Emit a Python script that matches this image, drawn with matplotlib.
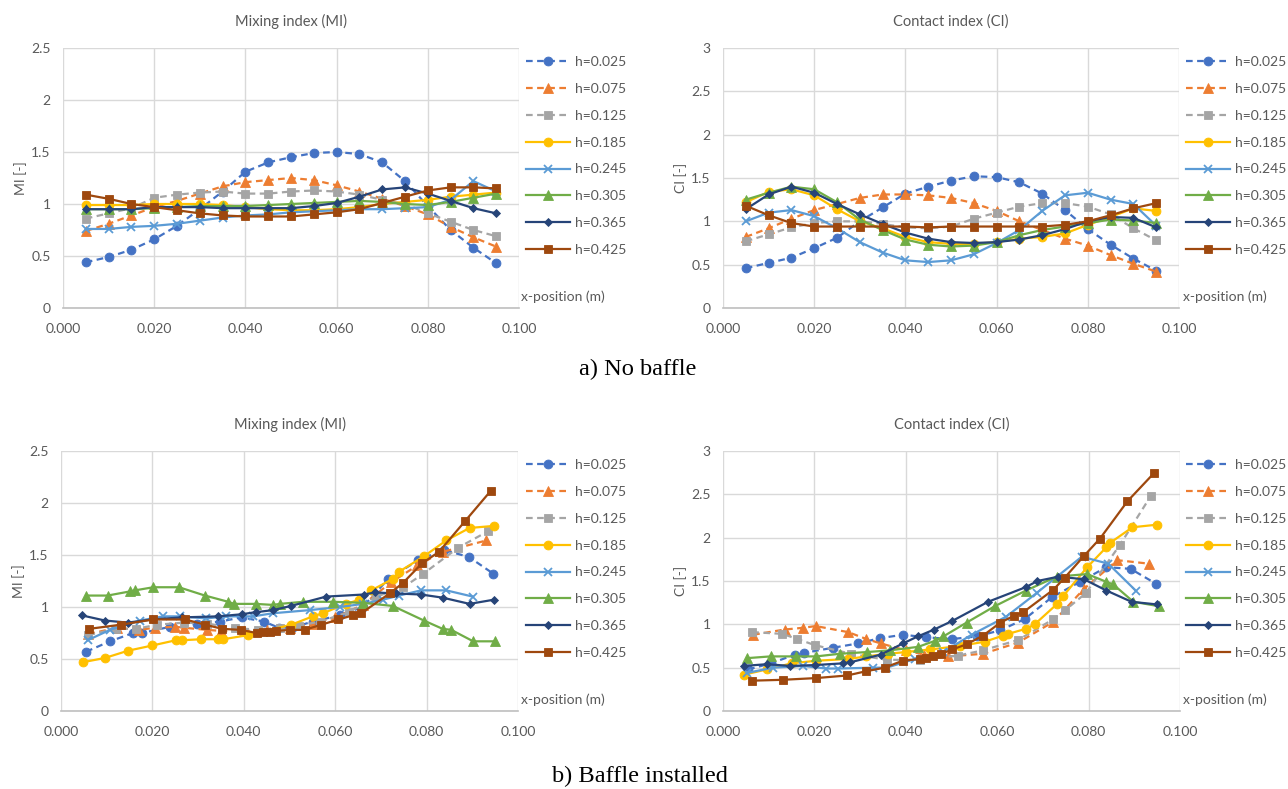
import numpy as np
import matplotlib
matplotlib.use("Agg")
import matplotlib.pyplot as plt

plt.rcParams['font.family'] = ['Lato', 'DejaVu Sans']

labels = ["h=0.025", "h=0.075", "h=0.125", "h=0.185",
          "h=0.245", "h=0.305", "h=0.365", "h=0.425"]
colors = ["#4472C4", "#ED7D31", "#A5A5A5", "#FFC000",
          "#5B9BD5", "#70AD47", "#264478", "#9E480E"]
markers = ["o", "^", "s", "o", "x", "^", "D", "s"]
dashed = [True, True, True, False, False, False, False, False]

# ---- a) no baffle: regular x positions ----
x_nb = [0.005, 0.010, 0.015, 0.020, 0.025, 0.030, 0.035, 0.040, 0.045, 0.050,
        0.055, 0.060, 0.065, 0.070, 0.075, 0.080, 0.085, 0.090, 0.095]

mi_nb = [
    [0.44, 0.49, 0.56, 0.66, 0.79, 0.95, 1.12, 1.31, 1.40, 1.45, 1.49, 1.50, 1.48, 1.40, 1.22, 0.98, 0.75, 0.58, 0.43],
    [0.74, 0.81, 0.89, 0.97, 1.03, 1.10, 1.17, 1.21, 1.23, 1.25, 1.23, 1.18, 1.12, 1.05, 0.98, 0.90, 0.78, 0.68, 0.59],
    [0.86, 0.91, 0.96, 1.06, 1.09, 1.11, 1.12, 1.10, 1.10, 1.12, 1.13, 1.12, 1.09, 1.04, 1.00, 0.91, 0.83, 0.75, 0.69],
    [0.99, 0.99, 0.99, 1.00, 1.00, 1.00, 0.99, 0.97, 0.95, 0.94, 0.94, 0.95, 0.97, 1.00, 1.02, 1.04, 1.07, 1.09, 1.11],
    [0.76, 0.76, 0.78, 0.79, 0.81, 0.84, 0.87, 0.89, 0.90, 0.92, 0.93, 0.94, 0.95, 0.95, 0.96, 0.97, 1.04, 1.22, 1.12],
    [0.95, 0.95, 0.95, 0.96, 0.97, 0.98, 0.98, 0.98, 0.99, 1.00, 1.01, 1.02, 1.03, 1.02, 1.00, 0.99, 1.02, 1.06, 1.10],
    [0.95, 0.95, 0.95, 0.97, 0.97, 0.97, 0.96, 0.96, 0.96, 0.96, 0.98, 1.01, 1.07, 1.14, 1.16, 1.10, 1.03, 0.96, 0.91],
    [1.09, 1.05, 1.00, 0.97, 0.94, 0.91, 0.89, 0.88, 0.88, 0.88, 0.90, 0.92, 0.95, 1.01, 1.07, 1.13, 1.16, 1.16, 1.15],
]

ci_nb = [
    [0.46, 0.52, 0.58, 0.69, 0.81, 1.00, 1.16, 1.32, 1.40, 1.47, 1.52, 1.51, 1.45, 1.32, 1.13, 0.91, 0.73, 0.57, 0.43],
    [0.82, 0.92, 1.03, 1.13, 1.20, 1.27, 1.31, 1.31, 1.30, 1.27, 1.21, 1.12, 1.00, 0.90, 0.80, 0.72, 0.61, 0.51, 0.42],
    [0.77, 0.85, 0.93, 0.98, 1.00, 1.00, 0.97, 0.93, 0.92, 0.94, 1.03, 1.10, 1.17, 1.21, 1.21, 1.17, 1.08, 0.92, 0.78],
    [1.22, 1.34, 1.37, 1.30, 1.14, 1.00, 0.92, 0.82, 0.76, 0.74, 0.74, 0.76, 0.80, 0.82, 0.86, 0.96, 1.05, 1.15, 1.12],
    [1.00, 1.10, 1.13, 1.06, 0.92, 0.76, 0.64, 0.55, 0.53, 0.55, 0.62, 0.75, 0.90, 1.12, 1.30, 1.33, 1.25, 1.20, 0.95],
    [1.25, 1.33, 1.40, 1.37, 1.22, 1.02, 0.90, 0.79, 0.73, 0.71, 0.72, 0.76, 0.84, 0.90, 0.94, 0.98, 1.02, 1.01, 0.98],
    [1.14, 1.31, 1.40, 1.33, 1.20, 1.08, 0.97, 0.87, 0.80, 0.76, 0.75, 0.76, 0.79, 0.84, 0.91, 1.00, 1.05, 1.04, 0.93],
    [1.18, 1.07, 0.98, 0.94, 0.94, 0.94, 0.94, 0.94, 0.93, 0.94, 0.94, 0.94, 0.94, 0.94, 0.96, 1.00, 1.07, 1.15, 1.21],
]

# ---- b) baffle installed: each series has its own x positions ----
mi_b_x = [
    [0.0055, 0.0107, 0.0158, 0.0177, 0.0239, 0.0298, 0.0348, 0.0395, 0.0444, 0.0477, 0.0505, 0.0551, 0.0610, 0.0660, 0.0716, 0.0782, 0.0837, 0.0893, 0.0946],
    [0.0060, 0.0122, 0.0170, 0.0205, 0.0250, 0.0270, 0.0320, 0.0350, 0.0400, 0.0450, 0.0500, 0.0550, 0.0600, 0.0660, 0.0723, 0.0780, 0.0835, 0.0931],
    [0.0060, 0.0120, 0.0165, 0.0210, 0.0270, 0.0320, 0.0380, 0.0430, 0.0480, 0.0520, 0.0566, 0.0630, 0.0690, 0.0749, 0.0793, 0.0869, 0.0935],
    [0.0049, 0.0096, 0.0147, 0.0200, 0.0251, 0.0264, 0.0306, 0.0344, 0.0355, 0.0410, 0.0504, 0.0551, 0.0573, 0.0624, 0.0653, 0.0679, 0.0726, 0.0740, 0.0795, 0.0843, 0.0894, 0.0948],
    [0.0058, 0.0107, 0.0173, 0.0224, 0.0260, 0.0318, 0.0362, 0.0420, 0.0464, 0.0544, 0.0610, 0.0661, 0.0704, 0.0740, 0.0788, 0.0843, 0.0901],
    [0.0055, 0.0102, 0.0151, 0.0162, 0.0202, 0.0258, 0.0315, 0.0366, 0.0379, 0.0426, 0.0464, 0.0479, 0.0530, 0.0595, 0.0661, 0.0726, 0.0794, 0.0835, 0.0854, 0.0902, 0.0950],
    [0.0045, 0.0096, 0.0146, 0.0200, 0.0264, 0.0344, 0.0395, 0.0426, 0.0464, 0.0503, 0.0580, 0.0662, 0.0688, 0.0733, 0.0788, 0.0835, 0.0894, 0.0947],
    [0.0062, 0.0131, 0.0202, 0.0272, 0.0315, 0.0353, 0.0393, 0.0428, 0.0442, 0.0457, 0.0471, 0.0500, 0.0533, 0.0570, 0.0607, 0.0639, 0.0657, 0.0719, 0.0748, 0.0790, 0.0827, 0.0885, 0.0941],
]
mi_b_y = [
    [0.57, 0.67, 0.75, 0.75, 0.81, 0.84, 0.86, 0.90, 0.86, 0.80, 0.80, 0.86, 0.92, 1.00, 1.27, 1.45, 1.55, 1.48, 1.32],
    [0.74, 0.80, 0.78, 0.80, 0.81, 0.80, 0.78, 0.77, 0.77, 0.78, 0.80, 0.84, 0.90, 1.02, 1.24, 1.40, 1.53, 1.64],
    [0.73, 0.79, 0.79, 0.83, 0.85, 0.84, 0.80, 0.78, 0.80, 0.82, 0.86, 0.95, 1.10, 1.19, 1.32, 1.57, 1.73],
    [0.47, 0.51, 0.58, 0.63, 0.68, 0.68, 0.69, 0.69, 0.69, 0.73, 0.83, 0.91, 0.94, 1.03, 1.07, 1.16, 1.27, 1.34, 1.49, 1.64, 1.76, 1.78],
    [0.68, 0.78, 0.87, 0.91, 0.91, 0.89, 0.91, 0.91, 0.94, 0.97, 1.00, 1.03, 1.07, 1.11, 1.16, 1.16, 1.10],
    [1.11, 1.11, 1.15, 1.16, 1.19, 1.19, 1.11, 1.05, 1.03, 1.03, 1.02, 1.03, 1.05, 1.05, 1.04, 1.01, 0.87, 0.79, 0.78, 0.67, 0.67],
    [0.92, 0.87, 0.85, 0.88, 0.90, 0.91, 0.93, 0.95, 0.97, 1.01, 1.10, 1.12, 1.14, 1.13, 1.12, 1.09, 1.03, 1.07],
    [0.79, 0.83, 0.88, 0.88, 0.83, 0.79, 0.78, 0.75, 0.76, 0.76, 0.77, 0.78, 0.78, 0.83, 0.88, 0.92, 0.94, 1.13, 1.23, 1.42, 1.53, 1.83, 2.12],
]

ci_b_x = [
    [0.0055, 0.0105, 0.0157, 0.0177, 0.0241, 0.0296, 0.0343, 0.0394, 0.0445, 0.0500, 0.0555, 0.0606, 0.0660, 0.0719, 0.0781, 0.0839, 0.0892, 0.0947],
    [0.0066, 0.0135, 0.0175, 0.0203, 0.0274, 0.0314, 0.0345, 0.0400, 0.0440, 0.0493, 0.0569, 0.0646, 0.0723, 0.0790, 0.0863, 0.0932],
    [0.0064, 0.0130, 0.0163, 0.0201, 0.0280, 0.0358, 0.0430, 0.0515, 0.0569, 0.0646, 0.0723, 0.0748, 0.0794, 0.0869, 0.0936],
    [0.0047, 0.0096, 0.0150, 0.0204, 0.0274, 0.0314, 0.0360, 0.0400, 0.0453, 0.0518, 0.0573, 0.0613, 0.0624, 0.0664, 0.0682, 0.0730, 0.0745, 0.0797, 0.0839, 0.0847, 0.0896, 0.0950],
    [0.0053, 0.0110, 0.0175, 0.0226, 0.0252, 0.0328, 0.0358, 0.0420, 0.0482, 0.0544, 0.0620, 0.0686, 0.0785, 0.0843, 0.0903],
    [0.0053, 0.0104, 0.0159, 0.0204, 0.0255, 0.0315, 0.0365, 0.0427, 0.0464, 0.0482, 0.0533, 0.0595, 0.0663, 0.0730, 0.0797, 0.0839, 0.0854, 0.0898, 0.0953],
    [0.0045, 0.0096, 0.0147, 0.0201, 0.0263, 0.0277, 0.0345, 0.0394, 0.0426, 0.0462, 0.0502, 0.0580, 0.0663, 0.0688, 0.0734, 0.0790, 0.0839, 0.0894, 0.0949],
    [0.0064, 0.0131, 0.0204, 0.0272, 0.0314, 0.0354, 0.0393, 0.0431, 0.0445, 0.0460, 0.0478, 0.0502, 0.0533, 0.0569, 0.0607, 0.0637, 0.0657, 0.0723, 0.0748, 0.0790, 0.0825, 0.0885, 0.0944],
]
ci_b_y = [
    [0.48, 0.55, 0.65, 0.67, 0.73, 0.78, 0.84, 0.88, 0.85, 0.83, 0.86, 0.93, 1.06, 1.31, 1.49, 1.66, 1.64, 1.47],
    [0.88, 0.94, 0.96, 0.98, 0.91, 0.83, 0.78, 0.70, 0.65, 0.63, 0.66, 0.79, 1.03, 1.41, 1.74, 1.70],
    [0.91, 0.89, 0.83, 0.76, 0.66, 0.59, 0.59, 0.64, 0.70, 0.82, 1.06, 1.16, 1.36, 1.92, 2.48],
    [0.42, 0.48, 0.55, 0.58, 0.60, 0.63, 0.66, 0.68, 0.71, 0.75, 0.80, 0.87, 0.89, 0.95, 1.00, 1.23, 1.33, 1.66, 1.89, 1.94, 2.12, 2.15],
    [0.44, 0.50, 0.52, 0.49, 0.49, 0.50, 0.50, 0.60, 0.68, 0.88, 1.09, 1.36, 1.78, 1.70, 1.39],
    [0.61, 0.63, 0.63, 0.63, 0.66, 0.68, 0.70, 0.74, 0.81, 0.86, 1.02, 1.21, 1.39, 1.55, 1.58, 1.49, 1.46, 1.26, 1.21],
    [0.52, 0.54, 0.52, 0.53, 0.55, 0.56, 0.65, 0.78, 0.86, 0.94, 1.04, 1.26, 1.43, 1.50, 1.55, 1.52, 1.39, 1.26, 1.23],
    [0.35, 0.36, 0.38, 0.41, 0.46, 0.50, 0.58, 0.60, 0.61, 0.63, 0.66, 0.71, 0.77, 0.87, 1.02, 1.10, 1.14, 1.40, 1.54, 1.79, 1.99, 2.42, 2.75],
]

W, H = 1288, 789
TXT = "#595959"
MSIZE = {"o": 6.4, "^": 6.6, "s": 6.0, "x": 5.6, "D": 4.4}


def px_axes(fig, x0, x1, y0, y1):
    # axes rectangle given in pixel coordinates (top-left origin)
    return fig.add_axes([x0 / W, 1 - y1 / H, (x1 - x0) / W, (y1 - y0) / H])


def draw_panel(fig, ax, xs, ys, ymax, title, ylabel, leg_x, leg_y):
    for i in range(8):
        m = markers[i]
        ax.plot(xs[i], ys[i], color=colors[i], marker=m, markersize=MSIZE[m],
                markeredgewidth=1.3 if m == "x" else 0.6,
                markeredgecolor=colors[i], linewidth=1.6,
                linestyle=(0, (3, 2)) if dashed[i] else "-",
                label=labels[i], zorder=3 + i)
    ticks_x = np.arange(0, 0.1001, 0.02)
    ticks_y = np.arange(0, ymax + 0.01, 0.5)
    ax.set_xlim(0, 0.1)
    ax.set_ylim(0, ymax)
    ax.set_xticks(ticks_x)
    ax.set_xticklabels(["%.3f" % v for v in ticks_x])
    ax.set_yticks(ticks_y)
    ax.set_yticklabels(["%g" % v for v in ticks_y])
    ax.grid(True, color="#d9d9d9", linewidth=1.0, zorder=0)
    ax.set_axisbelow(True)
    for s in ("top", "right", "left"):
        ax.spines[s].set_visible(False)
    ax.spines["bottom"].set_color("#bfbfbf")
    ax.spines["bottom"].set_linewidth(1.2)
    ax.tick_params(axis="x", length=0, labelsize=10, labelcolor=TXT, pad=11)
    ax.tick_params(axis="y", length=0, labelsize=10, labelcolor=TXT, pad=9)
    ax.set_title(title, fontsize=10.5, color=TXT, pad=16)
    ax.set_ylabel(ylabel, fontsize=10, color=TXT, labelpad=3)
    ax.legend(loc="upper left", bbox_to_anchor=(leg_x / W, 1 - leg_y / H),
              bbox_transform=fig.transFigure, frameon=False,
              fontsize=10, labelcolor=TXT, handlelength=3.2,
              handletextpad=0.3, labelspacing=1.07, borderpad=0,
              borderaxespad=0)


fig = plt.figure(figsize=(W / 100, H / 100), dpi=100)

ax1 = px_axes(fig, 63, 519, 48, 308)
draw_panel(fig, ax1, [x_nb] * 8, mi_nb, 2.5, "Mixing index (MI)", "MI [-]", 526, 56)
ax2 = px_axes(fig, 723, 1179, 48, 308)
draw_panel(fig, ax2, [x_nb] * 8, ci_nb, 3.0, "Contact index (CI)", "CI [-]", 1186, 56)
ax3 = px_axes(fig, 61, 518, 451, 711)
draw_panel(fig, ax3, mi_b_x, mi_b_y, 2.5, "Mixing index (MI)", "MI [-]", 526, 459)
ax4 = px_axes(fig, 723, 1180, 451, 711)
draw_panel(fig, ax4, ci_b_x, ci_b_y, 3.0, "Contact index (CI)", "CI [-]", 1186, 459)

# axis titles sitting to the right of each plot area
for (xp, yp) in [(521, 297), (1183, 297), (521, 700), (1183, 700)]:
    fig.text(xp / W, 1 - yp / H, "x-position (m)", fontsize=10, color=TXT,
             ha="left", va="center")

fig.text(637.5 / W, 1 - 369 / H, "a) No baffle", fontsize=17.6,
         family="Liberation Serif", ha="center", va="center")
fig.text(640 / W, 1 - 776 / H, "b) Baffle installed", fontsize=17.6,
         family="Liberation Serif", ha="center", va="center")

fig.savefig("out.png", dpi=100)
